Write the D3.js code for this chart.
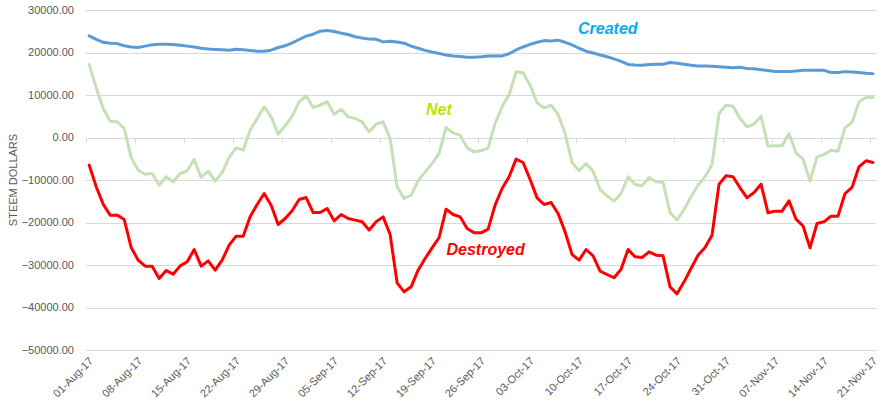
<!DOCTYPE html>
<html><head><meta charset="utf-8">
<script src="https://cdn.jsdelivr.net/npm/d3@7"></script>
<style>body{margin:0;background:#fff}svg{display:block;font-family:"Liberation Sans",Arial,sans-serif}</style>
</head><body>
<svg id="chart" width="893" height="410"></svg>
<script>
const tickLabels = ["01-Aug-17","08-Aug-17","15-Aug-17","22-Aug-17","29-Aug-17","05-Sep-17","12-Sep-17","19-Sep-17","26-Sep-17","03-Oct-17","10-Oct-17","17-Oct-17","24-Oct-17","31-Oct-17","07-Nov-17","14-Nov-17","21-Nov-17"];
const yTicks = [30000,20000,10000,0,-10000,-20000,-30000,-40000,-50000];

const created = [23900,23100,22400,22200,22100,21600,21300,21200,21500,21800,
21950,21950,21900,21700,21500,21300,21000,20800,20700,20630,
20550,20780,20630,20470,20310,20310,20550,21180,21570,22270,
23060,23840,24310,25020,25180,24940,24550,24230,23700,23400,
23150,23100,22500,22650,22450,22200,21500,21000,20500,20100,
19750,19400,19200,19050,18900,18900,19000,19150,19150,19200,
19700,20600,21300,21900,22400,22800,22700,22900,22400,21800,
21000,20300,19900,19400,19000,18500,17900,17200,17050,17000,
17200,17250,17250,17650,17450,17250,17000,16850,16800,16750,
16650,16550,16400,16550,16250,16150,15950,15750,15550,15550,
15550,15650,15800,15800,15800,15800,15300,15300,15500,15400,
15300,15100,15000];

const destroyed = [-6500,-11600,-15690,-18270,-18270,-19290,-25880,-28860,-30270,-30270,
-33180,-31290,-32160,-30200,-29250,-26350,-30270,-29020,-31220,-28860,
-25330,-23210,-23210,-18670,-15760,-13180,-15920,-20470,-19060,-17250,
-14590,-14120,-17650,-17650,-16710,-19610,-18120,-19060,-19450,-19840,
-21800,-19840,-18670,-22820,-34200,-36310,-35140,-31220,-28470,-25960,
-23530,-16860,-18120,-18670,-21410,-22430,-22430,-21570,-15920,-12000,
-9250,-5100,-5880,-9880,-14200,-15760,-15290,-17880,-22200,-27530,
-28860,-26350,-27840,-31450,-32240,-33000,-31000,-26350,-28080,-28240,
-26900,-27690,-27840,-35140,-36780,-33960,-30820,-27690,-25880,-22980,
-10980,-9020,-9250,-11840,-14200,-12940,-10980,-17720,-17330,-17330,
-14900,-19220,-20780,-25960,-20230,-19840,-18510,-18510,-13180,-11760,
-6900,-5490,-5880];

const net = [17180,11690,6820,3840,3690,2120,-4700,-7690,-8630,-8470,
-11220,-9250,-10430,-8470,-7840,-5180,-9410,-7920,-10270,-8240,
-4700,-2430,-2980,1730,4470,7220,4860,780,2750,5020,
8390,9800,7060,7610,8390,5490,6590,4860,4470,3690,
1330,3140,3690,-240,-11610,-14350,-13570,-10200,-8080,-6120,
-3760,2350,1100,550,-2430,-3370,-3140,-2430,3290,7220,
10120,15450,15220,12310,8160,6980,7610,5410,940,-5880,
-7840,-6120,-7920,-12240,-13730,-14980,-13180,-9250,-11060,-11370,
-9410,-10430,-10590,-17650,-19450,-16940,-13960,-11220,-9250,-6350,
5650,7610,7370,4470,2510,3140,5020,-2040,-1960,-1960,
940,-3610,-5100,-10200,-4550,-4000,-2980,-3220,2270,3530,
8390,9410,9410];

(function () {
const svg = d3.select("#chart");
const pLeft = 85.7, pRight = 876.5, pTop = 10, pBottom = 350;
const n = created.length;
const x = d3.scaleLinear().domain([-0.5, n - 0.5]).range([pLeft, pRight]);
const y = d3.scaleLinear().domain([-50000, 30000]).range([pBottom, pTop]);
const grid = "#d9d9d9", txt = "#595959";

svg.append("g").selectAll("line").data(yTicks).join("line")
  .attr("x1", pLeft).attr("x2", pRight)
  .attr("y1", d => Math.round(y(d)) + 0.5).attr("y2", d => Math.round(y(d)) + 0.5)
  .attr("stroke", grid).attr("stroke-width", 1);

svg.append("g").selectAll("text").data(yTicks).join("text")
  .attr("x", 74).attr("y", d => y(d)).attr("dy", "0.35em")
  .attr("text-anchor", "end").attr("font-size", 11).attr("fill", txt)
  .text(d => d3.format(".2f")(d));

const tickIdx = tickLabels.map((_, k) => k * 7);
svg.append("g").selectAll("line").data(tickIdx).join("line")
  .attr("x1", d => Math.round(x(d - 0.5)) + 0.5).attr("x2", d => Math.round(x(d - 0.5)) + 0.5)
  .attr("y1", Math.round(y(0))).attr("y2", Math.round(y(0)) + 5)
  .attr("stroke", grid).attr("stroke-width", 1);

svg.append("g").selectAll("text").data(tickLabels).join("text")
  .attr("transform", (d, k) => `translate(${x(k * 7) + 2},${pBottom + 9}) rotate(-45)`)
  .attr("text-anchor", "end").attr("dy", "0.35em")
  .attr("font-size", 11).attr("fill", txt)
  .text(d => d);

svg.append("text")
  .attr("transform", `translate(13,${(pTop + pBottom) / 2}) rotate(-90)`)
  .attr("text-anchor", "middle").attr("dy", "0.35em")
  .attr("font-size", 11).attr("fill", txt)
  .text("STEEM DOLLARS");

const line = d3.line().x((d, i) => x(i)).y(d => y(d));
const series = [
  {v: created, c: "#5b9bd5"},
  {v: destroyed, c: "#ff0000"},
  {v: net, c: "#c5e0b4"}
];
svg.append("g").selectAll("path").data(series).join("path")
  .attr("d", d => line(d.v)).attr("fill", "none")
  .attr("stroke", d => d.c).attr("stroke-width", 3)
  .attr("stroke-linejoin", "round").attr("stroke-linecap", "round");

const ann = [
  {t: "Created", x: 578, y: 34, c: "#00b0f0"},
  {t: "Net", x: 426, y: 115, c: "#c4e000"},
  {t: "Destroyed", x: 446.5, y: 255, c: "#ff0000"}
];
svg.append("g").selectAll("text").data(ann).join("text")
  .attr("x", d => d.x).attr("y", d => d.y)
  .attr("font-size", 16).attr("font-weight", "bold").attr("font-style", "italic")
  .attr("fill", d => d.c).text(d => d.t);
})();
</script>
</body></html>
